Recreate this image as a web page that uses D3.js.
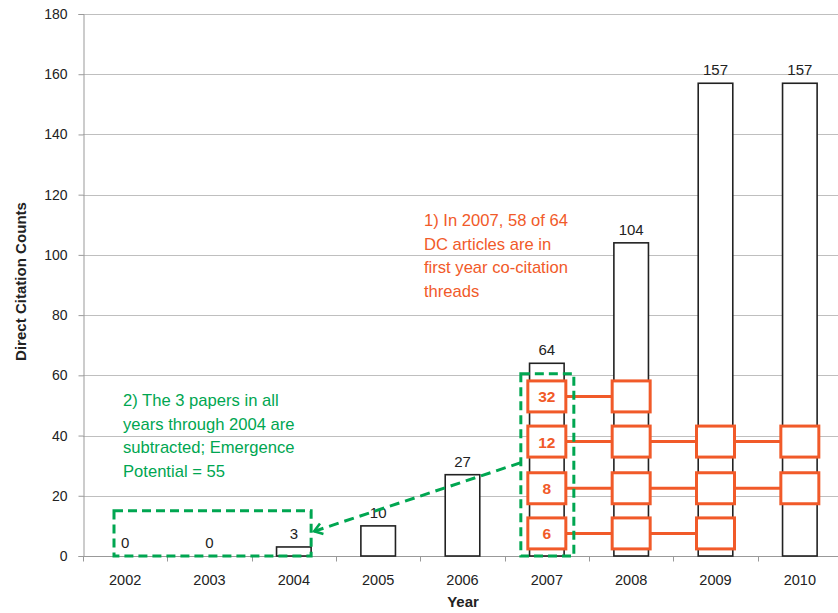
<!DOCTYPE html>
<html>
<head>
<meta charset="utf-8">
<script src="https://cdn.jsdelivr.net/npm/d3@7"></script>
<style>
  body { margin: 0; background: #fff; }
  svg text { font-family: "Liberation Sans", Arial, sans-serif; }
</style>
</head>
<body>
<div id="chart"></div>
<script>
// data
const years = ["2002", "2003", "2004", "2005", "2006", "2007", "2008", "2009", "2010"];
const counts = [0, 0, 3, 10, 27, 64, 104, 157, 157];
const yTicks = [0, 20, 40, 60, 80, 100, 120, 140, 160, 180];
// co-citation threads starting in 2007: label, level on the count axis, years it runs through
const threadLabels = ["32", "12", "8", "6"];
const threadLevels = [53, 38, 22.5, 7.5];
const threadYears = [
  ["2007", "2008"],
  ["2007", "2008", "2009", "2010"],
  ["2007", "2008", "2009", "2010"],
  ["2007", "2008", "2009"]
];
const note1 = ["1) In 2007, 58 of 64", "DC articles are in", "first year co-citation", "threads"];
const note2 = ["2) The 3 papers in all", "years through 2004 are", "subtracted; Emergence", "Potential = 55"];

// plot runs a little past the right edge, like the source
const width = 838, height = 613,
  margin = { top: 14, bottom: 57, left: 83, right: -4 },
  orange = "#f15a29",
  green = "#00a651",
  gridColor = "#bfbfbf";

const x = d3.scaleBand()
  .domain(years)
  .range([margin.left, width - margin.right])
  .paddingInner(0.59)
  .paddingOuter(0.295);
const band = d3.scaleBand().domain(years).range([margin.left, width - margin.right]);
const y = d3.scaleLinear()
  .domain([0, 180])
  .range([height - margin.bottom, margin.top]);

const svg = d3.select("#chart").append("svg")
  .attr("width", width)
  .attr("height", height);

// gridlines
svg.append("g")
  .selectAll("line")
  .data(yTicks)
  .join("line")
  .attr("x1", margin.left)
  .attr("x2", width)
  .attr("y1", d => Math.round(y(d)) + 0.5)
  .attr("y2", d => Math.round(y(d)) + 0.5)
  .attr("stroke", gridColor);

// y axis
const yAxis = svg.append("g")
  .attr("transform", `translate(${margin.left + 0.5},0)`)
  .call(d3.axisLeft(y).tickValues(yTicks).tickSize(5).tickPadding(11));
yAxis.select(".domain").attr("stroke", "#999");
yAxis.selectAll(".tick line").attr("stroke", "#999");
yAxis.selectAll(".tick text")
  .attr("font-size", 14).attr("fill", "#222")
  .style("font-family", "Liberation Sans, Arial, sans-serif");

// x axis, ticks on band boundaries
const xg = svg.append("g")
  .attr("transform", `translate(0,${Math.round(y(0)) + 0.5})`);
xg.append("line")
  .attr("x1", margin.left).attr("x2", width)
  .attr("stroke", "#999");
xg.selectAll("line.tk")
  .data(years)
  .join("line")
  .attr("class", "tk")
  .attr("x1", d => Math.round(band(d)) + 0.5)
  .attr("x2", d => Math.round(band(d)) + 0.5)
  .attr("y1", 0).attr("y2", 5)
  .attr("stroke", "#999");
xg.selectAll("text")
  .data(years)
  .join("text")
  .attr("x", d => band(d) + band.bandwidth() / 2)
  .attr("y", 28)
  .attr("text-anchor", "middle")
  .attr("font-size", 14.5)
  .attr("fill", "#222")
  .text(d => d);

// bars
svg.append("g")
  .selectAll("rect")
  .data(counts)
  .join("rect")
  .attr("x", (d, i) => x(years[i]))
  .attr("y", d => y(d))
  .attr("width", x.bandwidth())
  .attr("height", d => y(0) - y(d))
  .attr("fill", "#fff")
  .attr("stroke", "#222")
  .attr("stroke-width", 1.6)
  .style("display", d => d === 0 ? "none" : null);

// value labels
svg.append("g")
  .selectAll("text")
  .data(counts)
  .join("text")
  .attr("x", (d, i) => band(years[i]) + band.bandwidth() / 2)
  .attr("y", d => y(d) - 8)
  .attr("text-anchor", "middle")
  .attr("font-size", 15)
  .attr("fill", "#222")
  .text(d => d);

// axis titles
svg.append("text")
  .attr("transform", `translate(26,281.5) rotate(-90)`)
  .attr("text-anchor", "middle")
  .attr("font-size", 15)
  .attr("font-weight", "bold")
  .attr("fill", "#222")
  .attr("textLength", 159)
  .attr("lengthAdjust", "spacingAndGlyphs")
  .text("Direct Citation Counts");
svg.append("text")
  .attr("x", 463)
  .attr("y", 607)
  .attr("text-anchor", "middle")
  .attr("font-size", 15)
  .attr("font-weight", "bold")
  .attr("fill", "#222")
  .text("Year");

// thread connectors and boxes
const boxW = 38, boxH = 31;
const cx = yr => band(yr) + band.bandwidth() / 2;
const threads = svg.append("g");
threadYears.forEach((ys, i) => {
  const ty = y(threadLevels[i]);
  threads.append("line")
    .attr("x1", cx(ys[0])).attr("x2", cx(ys[ys.length - 1]))
    .attr("y1", ty).attr("y2", ty)
    .attr("stroke", orange).attr("stroke-width", 3);
  threads.selectAll(null)
    .data(ys)
    .join("rect")
    .attr("x", d => cx(d) - boxW / 2)
    .attr("y", ty - boxH / 2)
    .attr("width", boxW)
    .attr("height", boxH)
    .attr("fill", "#fff")
    .attr("stroke", orange)
    .attr("stroke-width", 3);
  threads.append("text")
    .attr("x", cx(ys[0]))
    .attr("y", ty + 6)
    .attr("text-anchor", "middle")
    .attr("font-size", 15.5)
    .attr("font-weight", "bold")
    .attr("fill", orange)
    .text(threadLabels[i]);
});

// green dashed highlight boxes
svg.append("rect")
  .attr("x", cx("2007") - 26).attr("y", y(60.5))
  .attr("width", 53).attr("height", y(0) - y(60.5))
  .attr("fill", "none")
  .attr("stroke", green).attr("stroke-width", 3)
  .attr("stroke-dasharray", "9,5");
svg.append("rect")
  .attr("x", band("2002") + 31).attr("y", y(15))
  .attr("width", x("2004") + x.bandwidth() - band("2002") - 31)
  .attr("height", y(0) - y(15))
  .attr("fill", "none")
  .attr("stroke", green).attr("stroke-width", 3)
  .attr("stroke-dasharray", "9,5");

// arrow
svg.append("defs").append("marker")
  .attr("id", "arr")
  .attr("viewBox", "0 0 12 14")
  .attr("refX", 10).attr("refY", 7)
  .attr("markerUnits", "userSpaceOnUse")
  .attr("markerWidth", 12).attr("markerHeight", 14)
  .attr("orient", "auto")
  .append("path")
  .attr("d", "M2,1.5 L10,7 L2,12.5")
  .attr("fill", "none")
  .attr("stroke", green)
  .attr("stroke-width", 2.6);
svg.append("line")
  .attr("x1", cx("2007") - 26).attr("y1", y(31))
  .attr("x2", x("2004") + x.bandwidth() + 3).attr("y2", y(8.2))
  .attr("stroke", green).attr("stroke-width", 3)
  .attr("stroke-dasharray", "10,6")
  .attr("marker-end", "url(#arr)");

// notes
svg.append("text")
  .attr("x", 424).attr("y", 226)
  .attr("font-size", 16.6)
  .attr("fill", orange)
  .selectAll("tspan")
  .data(note1)
  .join("tspan")
  .attr("x", 424)
  .attr("dy", (d, i) => i === 0 ? 0 : 23.5)
  .text(d => d);
svg.append("text")
  .attr("x", 123).attr("y", 406)
  .attr("font-size", 16.6)
  .attr("fill", green)
  .selectAll("tspan")
  .data(note2)
  .join("tspan")
  .attr("x", 123)
  .attr("dy", (d, i) => i === 0 ? 0 : 23.5)
  .text(d => d);
</script>
</body>
</html>
